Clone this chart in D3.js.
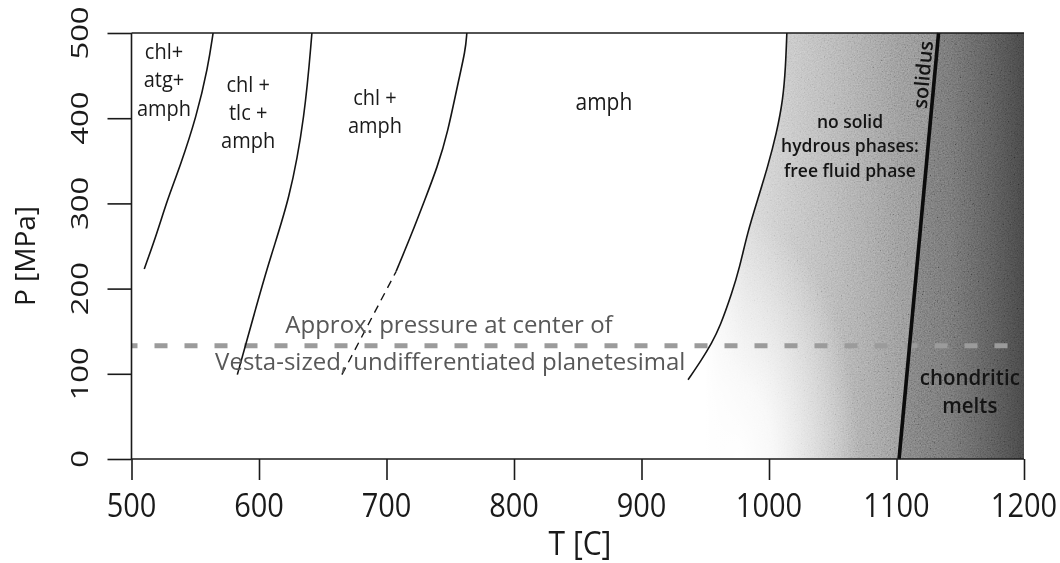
<!DOCTYPE html>
<html>
<head>
<meta charset="utf-8">
<script src="https://cdn.jsdelivr.net/npm/d3@7"></script>
<style>
  html, body { margin: 0; padding: 0; background: #fff; }
  svg { display: block; font-family: "Open Sans", "Noto Sans", sans-serif; }
</style>
</head>
<body>
<svg id="chart" width="1060" height="563"></svg>
<script>
// Axis ticks
const T_TICKS = [500, 600, 700, 800, 900, 1000, 1100, 1200];
const P_TICKS = [0, 100, 200, 300, 400, 500];

// Phase boundaries, [T (C), P (MPa)], ordered by increasing pressure
const ATG_OUT = [[510, 223], [520, 265], [528, 304], [538, 343], [551, 402], [560, 460], [564, 500]];
const TLC_OUT = [[583, 99], [589, 131], [608, 234], [624, 304], [636, 402], [641.5, 500]];
const CHL_OUT = [[707.5, 220], [720, 265], [730, 304], [740, 343], [748, 383], [756, 441], [762, 480], [763, 500]];
const CHL_OUT_EXTRAP = [[665, 99], [707.5, 220]];
const AMPH_OUT = [[936.5, 93], [947, 116], [955, 136], [961.5, 155], [971, 195], [977, 225], [983, 265],
                  [991, 304], [999, 343], [1006, 383], [1011, 422], [1013, 460], [1014, 500]];
const SOLIDUS = [[1102, 0], [1133, 500]];

// Approximate pressure at the centre of a Vesta-sized body (MPa)
const VESTA_P = 133;

// Field labels
const FIELD_ATG = ["chl+", "atg+", "amph"];
const FIELD_TLC = ["chl +", "tlc +", "amph"];
const FIELD_CHL = ["chl +", "amph"];
const FIELD_AMPH = ["amph"];
const FIELD_FLUID = ["no solid", "hydrous phases:", "free fluid phase"];
const FIELD_MELT = ["chondritic", "melts"];
const SOLIDUS_LABEL = "solidus";
const VESTA_LABEL = ["Approx. pressure at center of", "Vesta-sized, undifferentiated planetesimal"];
const X_TITLE = "T [C]";
const Y_TITLE = "P [MPa]";

const svg = d3.select("#chart");
const x = d3.scaleLinear().domain([500, 1200]).range([131.5, 1024]);
const y = d3.scaleLinear().domain([0, 500]).range([459, 33]);

const line = d3.line().x(d => x(d[0])).y(d => y(d[1])).curve(d3.curveBasis);
const straight = d3.line().x(d => x(d[0])).y(d => y(d[1]));

const defs = svg.append("defs");

// Horizontal shading of the two hot fields, stops keyed by temperature
const gx0 = x(930), gx1 = x(1200);
const offsetAt = T => Math.max(0, Math.min(1, (x(T) - gx0) / (gx1 - gx0)));
function makeGradient(id, stops) {
  const g = defs.append("linearGradient").attr("id", id)
    .attr("gradientUnits", "userSpaceOnUse")
    .attr("x1", gx0).attr("y1", 0).attr("x2", gx1).attr("y2", 0);
  stops.forEach(([T, c]) => g.append("stop").attr("offset", offsetAt(T)).attr("stop-color", c));
}
makeGradient("fluidShade", [[950, "#ffffff"], [981, "#d8d8d8"], [1016.5, "#c4c4c4"], [1048, "#b4b4b4"],
                            [1079, "#a2a2a2"], [1103, "#929292"], [1134, "#868686"]]);
makeGradient("meltShade", [[1103, "#7c7c7c"], [1142, "#6e6e6e"], [1173, "#585858"], [1200, "#424242"]]);

// The low-pressure, low-temperature corner of the fluid field fades to white
const fcx = x(975), fcy = y(0);
const fade = defs.append("radialGradient").attr("id", "lowFade")
  .attr("gradientUnits", "userSpaceOnUse")
  .attr("cx", fcx).attr("cy", fcy).attr("r", 122)
  .attr("gradientTransform", `translate(${fcx},${fcy}) scale(1,2) translate(${-fcx},${-fcy})`);
fade.append("stop").attr("offset", 0).attr("stop-color", "#fff").attr("stop-opacity", 1);
fade.append("stop").attr("offset", 0.3).attr("stop-color", "#fff").attr("stop-opacity", 0.85);
fade.append("stop").attr("offset", 1).attr("stop-color", "#fff").attr("stop-opacity", 0);

// Film grain for the shaded fields
const grain = defs.append("filter").attr("id", "grain")
  .attr("x", 0).attr("y", 0).attr("width", 1).attr("height", 1);
grain.append("feTurbulence").attr("type", "fractalNoise").attr("baseFrequency", 0.7)
  .attr("numOctaves", 2).attr("seed", 7).attr("result", "noise");
grain.append("feColorMatrix").attr("in", "noise").attr("type", "matrix")
  .attr("values", "0.75 0.75 0.75 0 -0.62  0.75 0.75 0.75 0 -0.62  0.75 0.75 0.75 0 -0.62  0 0 0 0 1")
  .attr("result", "gray");
grain.append("feComposite").attr("in", "gray").attr("in2", "SourceGraphic").attr("operator", "in");

// Field outlines
const fluidPath = line(AMPH_OUT)
  + "L" + x(SOLIDUS[1][0]) + "," + y(500)
  + "L" + x(SOLIDUS[0][0]) + "," + y(0)
  + "L" + x(AMPH_OUT[0][0]) + "," + y(0) + "Z";
const meltPath = "M" + x(SOLIDUS[1][0]) + "," + y(500)
  + "L" + x(1200) + "," + y(500)
  + "L" + x(1200) + "," + y(0)
  + "L" + x(SOLIDUS[0][0]) + "," + y(0) + "Z";

svg.append("path").attr("d", fluidPath).attr("fill", "url(#fluidShade)");
svg.append("path").attr("d", fluidPath).attr("fill", "url(#lowFade)");
svg.append("path").attr("d", meltPath).attr("fill", "url(#meltShade)");
const grainLayer = svg.append("g").style("mix-blend-mode", "overlay").attr("opacity", 0.3);
grainLayer.append("path").attr("d", fluidPath + meltPath).attr("fill", "#000").attr("filter", "url(#grain)");

// Vesta pressure line
svg.append("line")
  .attr("x1", x(500)).attr("x2", x(1200))
  .attr("y1", y(VESTA_P)).attr("y2", y(VESTA_P))
  .attr("stroke", "#9b9b9b").attr("stroke-width", 5)
  .attr("stroke-dasharray", "13,17").attr("stroke-dashoffset", 7);

// Phase boundaries
const curves = svg.append("g").attr("fill", "none").attr("stroke", "#151515");
[ATG_OUT, TLC_OUT, CHL_OUT, AMPH_OUT].forEach(b =>
  curves.append("path").attr("d", line(b)).attr("stroke-width", 1.6));
curves.append("path").attr("d", straight(CHL_OUT_EXTRAP)).attr("stroke-width", 1.4)
  .attr("stroke-dasharray", "8,6");
curves.append("path").attr("d", straight(SOLIDUS)).attr("stroke-width", 3.6).attr("stroke", "#0c0c0c");

// Axes
const axes = svg.append("g").attr("stroke", "#1a1a1a").attr("stroke-width", 1.6);
axes.append("line").attr("x1", x(500)).attr("x2", x(500)).attr("y1", y(500)).attr("y2", y(0));
axes.append("line").attr("x1", x(500)).attr("x2", x(1200)).attr("y1", y(0)).attr("y2", y(0));
axes.append("line").attr("x1", x(500)).attr("x2", x(1200)).attr("y1", y(500)).attr("y2", y(500));

const xAxis = svg.append("g").attr("transform", `translate(0,${y(0)})`)
  .call(d3.axisBottom(x).tickValues(T_TICKS).tickSize(21).tickFormat(""));
const yAxis = svg.append("g").attr("transform", `translate(${x(500)},0)`)
  .call(d3.axisLeft(y).tickValues(P_TICKS).tickSize(24).tickFormat(""));
[xAxis, yAxis].forEach(a => {
  a.select(".domain").remove();
  a.selectAll(".tick line").attr("stroke", "#1a1a1a").attr("stroke-width", 1.6);
});

// Tick labels (glyphs stretched vertically like the rest of the figure)
svg.append("g").selectAll("text").data(T_TICKS).join("text")
  .attr("transform", d => `translate(${x(d)},517) scale(1,1.1)`)
  .attr("text-anchor", "middle").attr("font-size", 29).attr("fill", "#1a1a1a")
  .text(d => d);
svg.append("g").selectAll("text").data(P_TICKS).join("text")
  .attr("transform", d => `translate(88,${y(d)}) rotate(-90) scale(1,0.76)`)
  .attr("text-anchor", "middle").attr("font-size", 31).attr("fill", "#1a1a1a")
  .text(d => d);

// Axis titles
svg.append("text").attr("transform", "translate(580,555) scale(1,1.08)")
  .attr("text-anchor", "middle").attr("font-size", 30).attr("fill", "#1a1a1a").text(X_TITLE);
svg.append("text").attr("transform", "translate(35,256) rotate(-90)")
  .attr("text-anchor", "middle").attr("font-size", 28).attr("fill", "#1a1a1a").text(Y_TITLE);

// Field labels, anchored in (T, P) space
function fieldLabel(lines, T, P, size, lh, sy, color, weight) {
  const g = svg.append("g").attr("transform", `translate(${x(T)},${y(P)})`);
  lines.forEach((s, i) => g.append("text")
    .attr("transform", `translate(0,${i * lh}) scale(1,${sy})`)
    .attr("text-anchor", "middle").attr("font-size", size)
    .attr("font-weight", weight || 400).attr("fill", color || "#1a1a1a")
    .text(s));
}
fieldLabel(FIELD_ATG, 525.5, 469.5, 20, 28.5, 1.12);
fieldLabel(FIELD_TLC, 591.5, 431, 20, 28.3, 1.12);
fieldLabel(FIELD_CHL, 691, 416, 20, 28, 1.12);
fieldLabel(FIELD_AMPH, 870.5, 410, 21, 28, 1.12);
fieldLabel(FIELD_FLUID, 1063.5, 389, 17.5, 24.5, 1.05, "#141414", 600);
fieldLabel(FIELD_MELT, 1157.5, 87, 20.5, 28, 1.05, "#141414", 600);

// Solidus label, aligned with the solidus line
const solAngle = Math.atan2(y(SOLIDUS[1][1]) - y(SOLIDUS[0][1]), x(SOLIDUS[1][0]) - x(SOLIDUS[0][0])) * 180 / Math.PI;
svg.append("text")
  .attr("transform", `translate(${x(1121.5)},${y(451)}) rotate(${solAngle}) translate(0,6)`)
  .attr("text-anchor", "middle").attr("font-size", 20).attr("font-weight", 600).attr("fill", "#141414")
  .text(SOLIDUS_LABEL);

// Vesta annotation
svg.append("text").attr("x", x(749)).attr("y", y(148)).attr("text-anchor", "middle")
  .attr("font-size", 24).attr("fill", "#585858").text(VESTA_LABEL[0]);
svg.append("text").attr("x", x(750)).attr("y", y(104.5)).attr("text-anchor", "middle")
  .attr("font-size", 24).attr("fill", "#585858").text(VESTA_LABEL[1]);
</script>
</body>
</html>
